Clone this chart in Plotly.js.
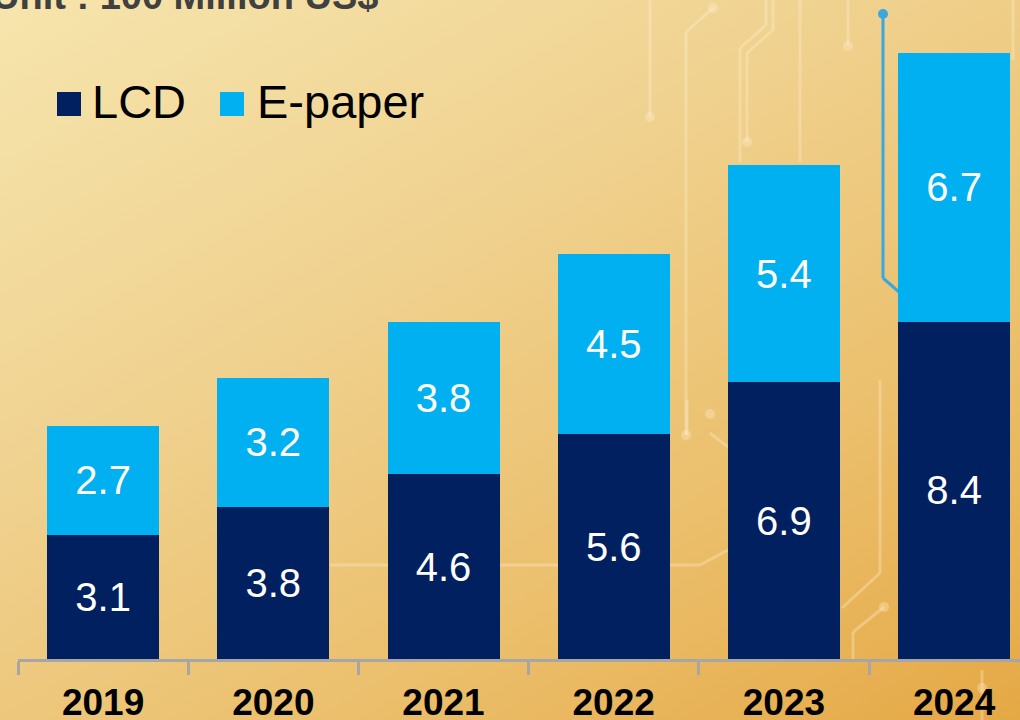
<!DOCTYPE html>
<html>
<head>
<meta charset="utf-8">
<script src="https://cdn.plot.ly/plotly-3.0.1.min.js"></script>
<style>
  html, body { margin: 0; padding: 0; }
  body {
    width: 1020px; height: 720px; overflow: hidden;
    background: linear-gradient(150deg, #f6e5ad 0%, #f0d392 35%, #ebbf6c 70%, #e5a845 100%);
  }
  #chart { width: 1020px; height: 720px; }
</style>
</head>
<body>
<div id="chart"></div>
<script>
// ---- data ----
const years = ["2019", "2020", "2021", "2022", "2023", "2024"];
const lcdValues = [3.1, 3.8, 4.6, 5.6, 6.9, 8.4];
const epaperValues = [2.7, 3.2, 3.8, 4.5, 5.4, 6.7];
const seriesNames = ["LCD", "E-paper"];
const unitText = "Unit : 100 Million US$";

// ---- styles ----
const navy = "#002060";
const cyan = "#00b0f0";
const font = "Arial, 'Liberation Sans', sans-serif";

// pixel helpers for layout decoration (paper coords)
const L = 18, W = 1002, H = 659;
const px = x => (x - L) / W;
const py = y => (H - y) / H;

const traces = [
  {
    type: "bar", name: seriesNames[0], x: years, y: lcdValues,
    marker: { color: navy, line: { width: 0 } },
    text: lcdValues.map(v => v.toFixed(1)), textposition: "inside",
    insidetextanchor: "middle", constraintext: "none",
    textfont: { color: "#ffffff", size: 40, family: font },
    hoverinfo: "x+y+name", showlegend: false
  },
  {
    type: "bar", name: seriesNames[1], x: years, y: epaperValues,
    marker: { color: cyan, line: { width: 0 } },
    text: epaperValues.map(v => v.toFixed(1)), textposition: "inside",
    insidetextanchor: "middle", constraintext: "none",
    textfont: { color: "#ffffff", size: 40, family: font },
    hoverinfo: "x+y+name", showlegend: false
  }
];

// decorative circuit lines
const faint = "rgba(255,242,210,0.32)";
function seg(x0, y0, x1, y1, color, w) {
  return { type: "line", xref: "paper", yref: "paper", layer: "below",
    x0: px(x0), y0: py(y0), x1: px(x1), y1: py(y1),
    line: { color: color, width: w } };
}
function dot(x, y, r, color) {
  return { type: "circle", xref: "paper", yref: "paper", layer: "below",
    x0: px(x - r), x1: px(x + r), y0: py(y + r), y1: py(y - r),
    fillcolor: color, line: { width: 0 } };
}
const deco = [
  seg(650, 0, 650, 117, faint, 3), dot(650, 117, 5, faint),
  seg(713, 8, 686, 32, faint, 3), seg(686, 32, 686, 435, faint, 3), dot(713, 8, 5, faint), dot(686, 435, 5, faint),
  seg(766, 0, 766, 25, faint, 3), seg(766, 25, 740, 48, faint, 3), seg(740, 48, 740, 162, faint, 3),
  seg(773, 0, 773, 30, faint, 3), seg(773, 30, 747, 53, faint, 3), seg(747, 53, 747, 142, faint, 3), dot(747, 142, 5, faint),
  seg(800, 0, 800, 162, faint, 3),
  seg(848, 0, 848, 46, faint, 3), dot(848, 46, 5, faint),
  seg(687, 400, 687, 435, faint, 3), dot(710, 414, 5, faint), seg(710, 433, 728, 447, faint, 3),
  seg(670, 565, 700, 565, faint, 3), seg(700, 565, 728, 550, faint, 3),
  seg(880, 380, 880, 573, faint, 3), seg(880, 573, 842, 608, faint, 3),
  seg(884, 607, 853, 632, faint, 3), seg(853, 632, 853, 659, faint, 3), dot(884, 607, 5, faint),
  seg(330, 565, 390, 565, faint, 3), seg(500, 565, 560, 565, faint, 3),
  seg(1013, 0, 1013, 60, faint, 3), seg(982, 670, 982, 720, faint, 3), dot(982, 688, 5, faint),
  seg(883, 14, 883, 278, "#3aa8dc", 3), seg(883, 278, 899, 292, "#3aa8dc", 3), dot(883, 14, 5, "#3aa8dc")
];

// legend (manual, large squares)
const legendShapes = [
  { type: "rect", xref: "paper", yref: "paper", x0: px(57), x1: px(81), y0: py(116), y1: py(92),
    fillcolor: navy, line: { width: 0 } },
  { type: "rect", xref: "paper", yref: "paper", x0: px(220), x1: px(244), y0: py(116), y1: py(92),
    fillcolor: cyan, line: { width: 0 } }
];

const annotations = [
  { text: seriesNames[0], xref: "paper", yref: "paper", x: px(90), y: py(101),
    xanchor: "left", yanchor: "middle", showarrow: false,
    font: { size: 47, color: "#000000", family: font } },
  { text: seriesNames[1], xref: "paper", yref: "paper", x: px(255), y: py(101),
    xanchor: "left", yanchor: "middle", showarrow: false,
    font: { size: 47, color: "#000000", family: font } },
  { text: "<b>" + unitText + "</b>", xref: "paper", yref: "paper", x: px(-10), y: py(-4),
    xanchor: "left", yanchor: "middle", showarrow: false,
    font: { size: 38, color: "#404040", family: font } }
];

const layout = {
  width: 1020, height: 720,
  margin: { l: L, r: 0, t: 0, b: 61, pad: 0 },
  paper_bgcolor: "rgba(0,0,0,0)", plot_bgcolor: "rgba(0,0,0,0)",
  barmode: "stack", bargap: 0.342,
  showlegend: false,
  xaxis: {
    type: "category", range: [-0.5, -0.5 + W / 170.2],
    showline: true, linecolor: "#a6a6a6", linewidth: 3,
    ticks: "outside", tickson: "boundaries", ticklen: 13, tickwidth: 3, tickcolor: "#a6a6a6",
    ticklabelstandoff: 9,
    tickfont: { size: 37, color: "#000000", family: font, weight: "bold" },
    showgrid: false, zeroline: false, fixedrange: true
  },
  yaxis: {
    range: [0, H / 40.13], visible: false, showgrid: false, zeroline: false, fixedrange: true
  },
  shapes: deco.concat(legendShapes),
  annotations: annotations,
  font: { family: font }
};

Plotly.newPlot("chart", traces, layout, { displayModeBar: false, staticPlot: true });
</script>
</body>
</html>
